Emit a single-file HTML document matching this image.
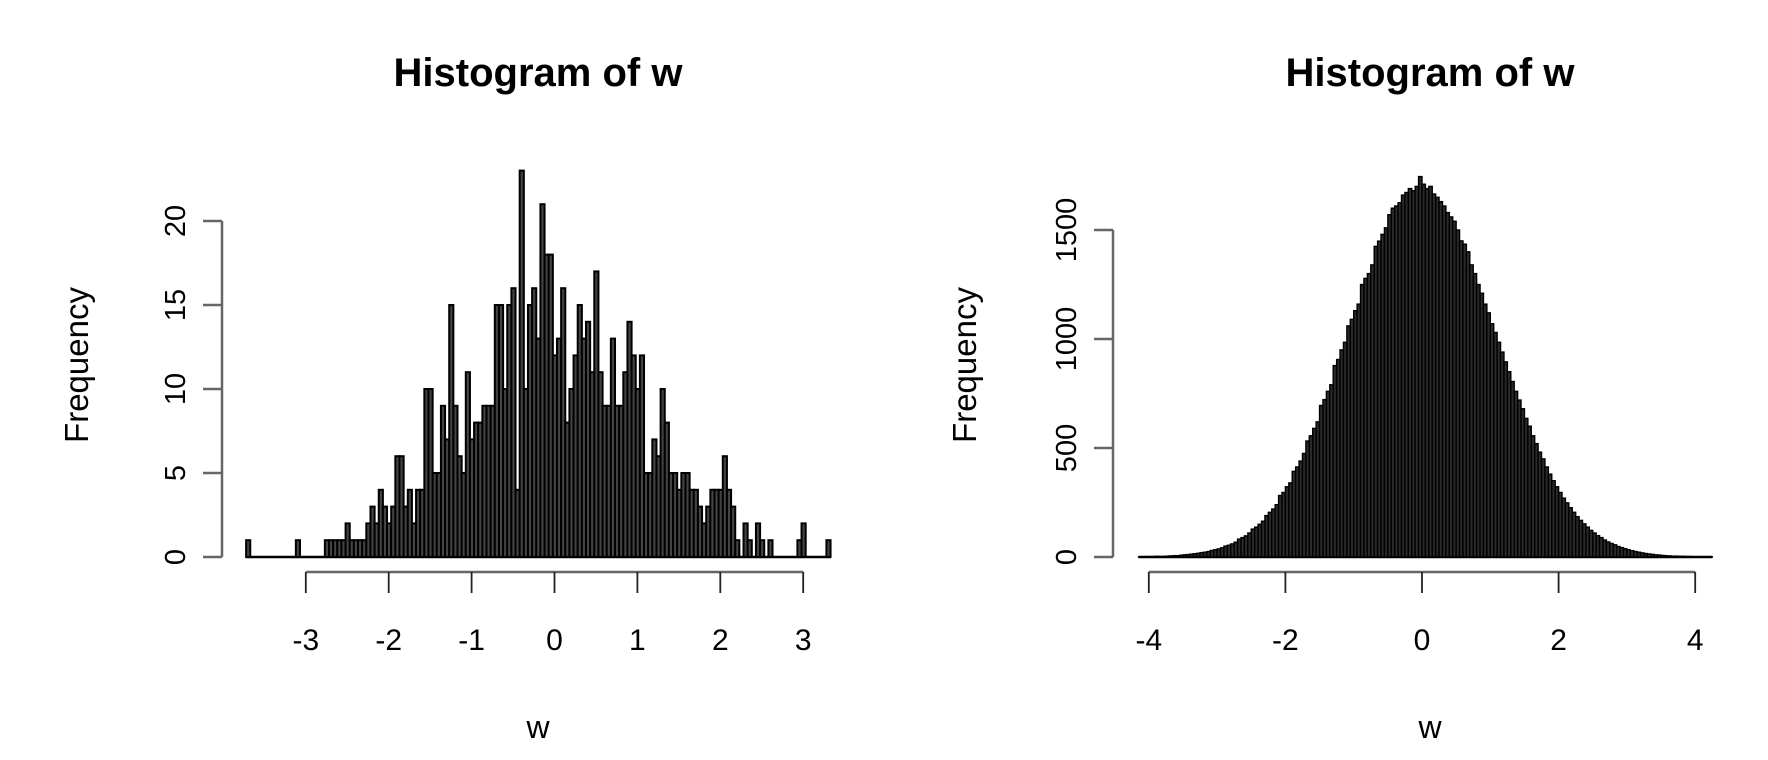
<!DOCTYPE html>
<html><head><meta charset="utf-8"><style>
html,body{margin:0;padding:0;background:#fff;}
svg{display:block;font-family:"Liberation Sans",Arial,sans-serif;}
</style></head><body>
<svg id="chart" width="1768" height="760" viewBox="0 0 1768 760" xmlns="http://www.w3.org/2000/svg">
<g id="p1"></g>
<g id="p2"></g>
</svg>
<script>
// Left panel data
const leftStart = -3.72;
const leftBinWidth = 0.05;
const leftCounts = [1,0,0,0,0,0,0,0,0,0,0,0,1,0,0,0,0,0,0,
1,1,1,1,1,2,1,1,1,1,
2,3,2,4,3,2,3,6,6,3,4,2,4,4,10,
10,5,5,9,7,15,9,6,5,11,7,8,8,9,9,9,15,15,10,15,16,4,23,10,15,16,13,21,18,18,12,13,16,8,10,12,15,13,14,11,17,11,9,9,13,9,9,11,
14,12,10,12,5,5,7,6,10,8,5,5,4,5,5,4,4,3,2,3,4,4,4,
6,4,3,1,0,2,1,0,2,1,0,1,0,0,0,0,0,0,1,2,0,0,0,0,0,1];
const leftXTicks = [-3,-2,-1,0,1,2,3];
const leftYTicks = [0,5,10,15,20];

// Right panel data
const rightStart = -4.15;
const rightBinWidth = 0.05;
const rightCounts = [1,1,2,1,2,3,2,3,4,5,6,6,8,10,11,13,15,17,20,22,25,30,33,37,42,50,54,60,68,82,89,97,110,128,137,150,164,190,205,220,240,282,296,322,340,393,413,440,475,532,556,590,620,695,722,760,790,878,906,950,985,1060,1090,1130,1160,1250,1278,1300,1340,1425,1449,1480,1510,1570,1600,1610,1625,1660,1672,1690,1680,1700,1745,
1710,1690,1700,1665,1650,1630,1610,1580,1560,1540,1500,1450,1435,1400,1340,1300,1250,1210,1160,1120,1070,1030,985,940,895,850,805,760,720,680,636,600,556,520,481,450,413,380,350,322,296,270,248,226,205,185,168,152,137,122,110,98,89,78,69,62,56,48,43,38,33,29,25,22,19,16,14,12,10,9,7,6,5,4,4,3,3,2,2,1,1,1,1,0,1];
const rightXTicks = [-4,-2,0,2,4];
const rightYTicks = [0,500,1000,1500];

const NS = "http://www.w3.org/2000/svg";
function mk(parent, tag, attrs, text){
  const e = document.createElementNS(NS, tag);
  for (const k in attrs) e.setAttribute(k, attrs[k]);
  if (text !== undefined) e.textContent = text;
  parent.appendChild(e);
  return e;
}

function drawPanel(g, cfg){
  const sx = v => cfg.x0 + (v - cfg.xv0) * cfg.xs;
  const sy = v => cfg.y0 - v * cfg.ys;
  const bars = mk(g, 'g', {});
  
  
  const endV = cfg.start + cfg.counts.length * cfg.bw;
  const base = mk(bars, 'line', {x1: sx(cfg.start), x2: sx(endV), y1: cfg.y0, y2: cfg.y0, stroke: '#000', 'stroke-width': 2.5});
  
  
  cfg.counts.forEach((c, i) => {
    const l = cfg.start + i * cfg.bw;
    const x1 = sx(l), x2 = sx(l + cfg.bw);
    if (c <= 0) return;
    const r = mk(bars, 'rect', {x: x1, y: sy(c), width: x2 - x1, height: cfg.y0 - sy(c), fill: cfg.fill, stroke: '#000', 'stroke-width': cfg.sw});
    
    
  });
  const xa = mk(g, 'g', {});
  
  
  const xt = cfg.xticks;
  mk(xa, 'line', {x1: sx(xt[0]), x2: sx(xt[xt.length-1]), y1: 572, y2: 572, stroke: '#666', 'stroke-width': 2.5});
  xt.forEach(t => {
    mk(xa, 'line', {x1: sx(t), x2: sx(t), y1: 572, y2: 593, stroke: '#222', 'stroke-width': 1.8});
    const tl = mk(xa, 'text', {x: sx(t), y: 650, 'font-size': 30, 'text-anchor': 'middle', fill: '#000'}, String(t));
    
    
  });
  const ya = mk(g, 'g', {});
  
  
  const yt = cfg.yticks;
  mk(ya, 'line', {x1: cfg.yax, x2: cfg.yax, y1: sy(yt[0]), y2: sy(yt[yt.length-1]), stroke: '#666', 'stroke-width': 2.5});
  yt.forEach(t => {
    mk(ya, 'line', {x1: cfg.yax - 19, x2: cfg.yax, y1: sy(t), y2: sy(t), stroke: '#666', 'stroke-width': 2.5});
    const tl = mk(ya, 'text', {x: 0, y: 0, 'font-size': 29, 'text-anchor': 'middle', fill: '#000', transform: `translate(${cfg.yax - 37},${sy(t)}) rotate(-90)`}, String(t));
    
    
  });
  const title = mk(g, 'text', {x: cfg.tx, y: 86, 'font-size': 40, 'font-weight': 'bold', 'text-anchor': 'middle'}, 'Histogram of w');
  
  
  const xl = mk(g, 'text', {x: cfg.tx, y: 738, 'font-size': 32, 'text-anchor': 'middle'}, 'w');
  
  
  const yl = mk(g, 'text', {x: 0, y: 0, 'font-size': 33, 'text-anchor': 'middle', transform: `translate(${cfg.ylx},365) rotate(-90)`}, 'Frequency');
  
  
}

drawPanel(document.getElementById('p1'), {
  counts: leftCounts, start: leftStart, bw: leftBinWidth,
  x0: 554.5, xv0: 0, xs: 82.9, y0: 557, ys: 16.8,
  xticks: leftXTicks, yticks: leftYTicks, yax: 222, tx: 538, ylx: 88,
  fill: '#444', sw: 2
});
drawPanel(document.getElementById('p2'), {
  counts: rightCounts, start: rightStart, bw: rightBinWidth,
  x0: 1422, xv0: 0, xs: 68.3, y0: 557, ys: 0.218,
  xticks: rightXTicks, yticks: rightYTicks, yax: 1113, tx: 1430, ylx: 976,
  fill: '#2a2a2a', sw: 1.4
});
</script>
</body></html>
